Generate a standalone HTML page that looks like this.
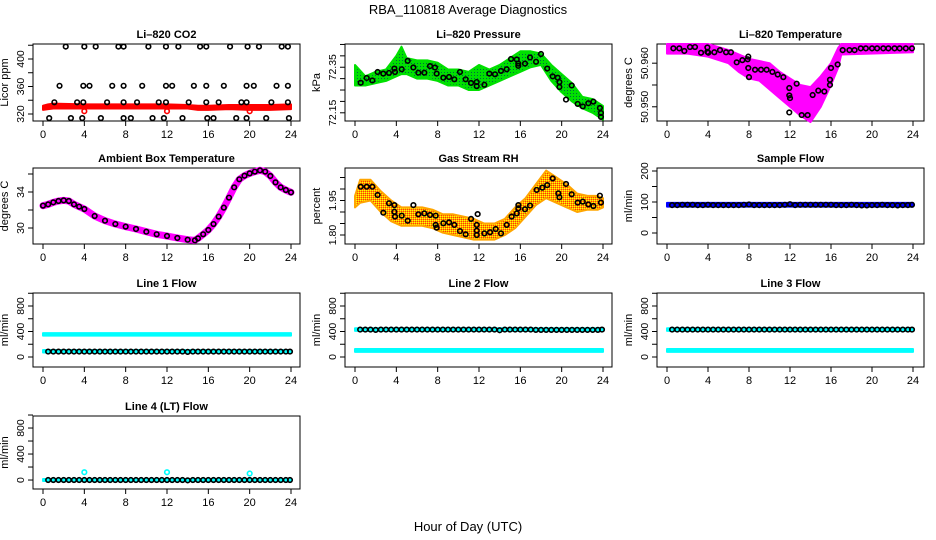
<!DOCTYPE html>
<html><head><meta charset="utf-8"><style>
body{margin:0;background:#fff;}
svg{display:block;font-family:"Liberation Sans",Arial,sans-serif;}
</style></head><body>
<svg id="c" width="936" height="540" viewBox="0 0 936 540">
<defs>
<pattern id="pg" width="3" height="3" patternUnits="userSpaceOnUse"><rect width="3" height="3" fill="#00e000"/><rect width="1" height="1" fill="#064"/></pattern>
<pattern id="po" width="2" height="2" patternUnits="userSpaceOnUse"><rect width="2" height="2" fill="#ffa500"/><rect width="1" height="1" fill="#ffff00"/><rect x="1" y="1" width="1" height="1" fill="#ff4000"/></pattern>
</defs>
<text x="468" y="14" text-anchor="middle" font-size="13">RBA_110818  Average Diagnostics</text>
<text x="468" y="531" text-anchor="middle" font-size="13">Hour of Day (UTC)</text>
</svg>
<script>
// ---------- data ----------
const co2Hours=[2.2,4.0,5.1,7.3,7.8,10.2,11.9,13.1,15.2,15.8,18.1,19.8,20.9,23.1,23.7,1.6,3.9,4.5,6.7,7.8,9.6,11.9,12.5,14.6,15.8,17.5,19.7,20.4,22.6,23.7,1.1,3.3,3.9,6.2,7.8,9.1,11.2,11.9,14.1,15.8,17.0,19.2,19.7,22.1,23.7,0.6,2.7,3.8,5.6,7.8,8.5,10.6,11.7,13.5,15.9,16.5,18.7,19.7,21.6,23.8];
const co2Values=[418,418,418,418,418,418,418,418,418,418,418,418,418,418,418,361,361,361,361,361,361,361,361,361,361,361,361,361,361,361,337,337,337,337,337,337,337,337,337,337,337,337,337,337,337,314,314,314,314,314,314,314,314,314,314,314,314,314,314,314];
const co2BandHours=[0,0.5,1,4,8,12,14,15,16,18,20,21,22,24];
const co2BandLo=[326,327,328,328,328,328,328,326,326,327,326,326,326,327];
const co2BandHi=[332,334,335,334,334,334,333,332,332,333,333,333,333,334];
const co2RedHours=[4,12,20];
const co2RedValues=[324,324,324];

const presHours=[0.55,1.13,1.68,2.19,2.74,3.29,3.81,3.87,4.52,5.10,5.65,6.13,6.71,7.26,7.74,7.9,8.55,9.10,9.61,10.16,10.71,11.23,11.78,11.78,12.52,13.0,13.55,14.13,14.68,15.1,15.65,15.8,15.8,16.45,16.94,17.52,18.0,18.6,19.13,19.62,19.78,19.78,20.42,20.97,21.55,22.04,22.58,23.07,23.7,23.8,23.8];
const presValues=[72.282,72.303,72.292,72.329,72.322,72.325,72.344,72.329,72.341,72.378,72.349,72.326,72.326,72.355,72.349,72.322,72.304,72.307,72.297,72.329,72.297,72.281,72.285,72.267,72.273,72.322,72.319,72.334,72.341,72.386,72.384,72.366,72.356,72.366,72.393,72.374,72.408,72.344,72.310,72.304,72.285,72.263,72.208,72.270,72.189,72.178,72.192,72.199,72.171,72.149,72.132];
const presBandHours=[0,1,2,3,4,4.5,5,6,7,8,9,10,11,12,13,14,15,16,17,18,19,20,21,22,23,24];
const presBandLo=[72.27,72.27,72.28,72.29,72.31,72.32,72.32,72.30,72.30,72.29,72.27,72.27,72.25,72.25,72.27,72.29,72.31,72.33,72.35,72.36,72.29,72.24,72.20,72.17,72.15,72.12];
const presBandHi=[72.36,72.31,72.33,72.34,72.40,72.44,72.39,72.38,72.38,72.37,72.34,72.34,72.33,72.36,72.34,72.36,72.39,72.42,72.42,72.41,72.36,72.32,72.28,72.22,72.21,72.18];

const tempHours=[0.62,1.2,1.69,2.24,2.73,3.32,3.94,3.94,4.03,4.62,5.17,5.76,6.24,6.8,7.35,7.87,7.93,7.93,8.0,8.59,9.17,9.72,10.28,10.8,11.35,11.93,11.93,12.0,11.93,12.65,13.14,13.72,14.21,14.76,15.35,15.9,15.9,16.0,16.65,17.14,17.8,18.3,18.9,19.4,20.0,20.5,21.1,21.6,22.2,22.7,23.3,23.9];
const tempValues=[50.9634,50.9634,50.9628,50.9637,50.9637,50.9624,50.9636,50.9626,50.9624,50.9625,50.9630,50.9625,50.9625,50.9602,50.9607,50.9609,50.9615,50.9589,50.9568,50.9585,50.9585,50.9585,50.9580,50.9574,50.9568,50.9543,50.9526,50.9520,50.9487,50.9553,50.9481,50.9481,50.9527,50.9537,50.9535,50.9550,50.9562,50.9589,50.9597,50.9630,50.9630,50.9630,50.9634,50.9634,50.9634,50.9634,50.9634,50.9634,50.9634,50.9634,50.9634,50.9634];
const tempBandHours=[0,2,4,6,7,8,9,10,11,12,13,14,15,16,16.7,17,24];
const tempBandLo=[50.9622,50.9622,50.9615,50.9600,50.9580,50.9565,50.9560,50.9540,50.9520,50.9500,50.9480,50.9465,50.9500,50.9550,50.9590,50.9620,50.9625];
const tempBandHi=[50.9644,50.9644,50.9644,50.9630,50.9620,50.9610,50.9605,50.9600,50.9580,50.9565,50.9550,50.9545,50.9570,50.9600,50.9635,50.9644,50.9644];

const ambHours=[0,0.5,1,1.5,2,2.5,3,3.5,4,5,6,7,8,9,10,11,12,13,14,14.7,15,15.5,16,16.5,17,17.5,18,18.5,19,19.5,20,20.5,21,21.5,22,22.5,23,23.5,24];
const ambValues=[32.48,32.63,32.85,33.0,33.07,33.0,32.63,32.37,32.11,31.33,30.81,30.44,30.15,29.89,29.59,29.3,29.11,28.89,28.7,28.63,28.85,29.3,29.78,30.44,31.26,32.26,33.37,34.52,35.41,35.81,36.07,36.26,36.41,36.26,35.78,35.07,34.52,34.22,33.96];

const rhHours=[0.55,1.13,1.68,2.19,2.74,3.29,3.81,3.81,3.87,4.52,5.10,5.65,6.13,6.71,7.26,7.81,7.81,7.9,8.55,9.10,9.61,10.16,10.71,11.23,11.78,11.78,11.78,11.87,12.52,13.07,13.62,14.13,14.68,15.16,15.65,15.81,15.81,16.45,16.94,17.58,18.13,18.6,19.13,19.68,19.78,20.42,20.97,21.55,22.04,22.58,23.07,23.7,23.8];
const rhValues=[2.010,2.010,2.010,1.974,1.897,1.938,1.930,1.901,1.880,1.884,1.862,1.930,1.890,1.894,1.887,1.884,1.844,1.832,1.851,1.855,1.844,1.817,1.803,1.870,1.844,1.819,1.800,1.891,1.807,1.812,1.826,1.807,1.844,1.880,1.894,1.916,1.930,1.912,1.928,1.996,2.006,2.017,2.046,1.981,1.964,2.022,1.977,1.941,1.945,1.933,1.926,1.971,1.941];
const rhBandHours=[0,0.5,1.5,2.5,3.5,4.5,5.5,6.5,7.5,8.5,9.5,10.5,11.5,12.5,13.5,14.5,15.5,16.5,17.5,18.5,19.5,20.5,21.5,22.5,23.5,24];
const rhBandLo=[1.92,1.94,1.95,1.90,1.86,1.84,1.84,1.84,1.83,1.81,1.80,1.79,1.78,1.78,1.78,1.80,1.83,1.88,1.93,1.96,1.94,1.92,1.90,1.91,1.91,1.92];
const rhBandHi=[1.97,2.04,2.04,1.99,1.95,1.92,1.92,1.92,1.91,1.89,1.89,1.88,1.87,1.85,1.85,1.87,1.92,1.96,2.02,2.08,2.05,2.02,1.98,1.97,1.97,1.96];

const flowHours=[0.5,1,1.5,2,2.5,3,3.5,4,4.5,5,5.5,6,6.5,7,7.5,8,8.5,9,9.5,10,10.5,11,11.5,12,12.5,13,13.5,14,14.5,15,15.5,16,16.5,17,17.5,18,18.5,19,19.5,20,20.5,21,21.5,22,22.5,23,23.5,23.9];
const sampleValues=[90,90,91,91,91,90,90,91,90,90,90,90,90,90,91,92,90,90,90,90,90,90,91,93,90,91,91,91,91,91,91,91,90,90,90,91,90,89,89,90,90,91,90,90,89,90,90,91];
const line1Values=[85,85,85,85,85,85,85,85,85,85,85,85,85,85,85,85,85,85,85,85,85,85,85,85,85,85,85,80,85,85,85,85,85,85,85,85,85,85,85,85,85,85,85,85,85,85,85,85];
const line2Values=[430,430,430,425,430,430,430,430,430,430,430,430,430,430,430,430,430,430,430,430,430,430,430,430,430,430,430,420,430,430,430,430,430,430,425,425,425,425,425,425,425,425,425,425,425,425,425,430];
const line3Values=[430,430,430,430,430,430,430,430,430,430,430,430,430,430,430,430,430,430,430,430,430,430,430,430,430,430,430,430,430,430,430,430,430,430,430,430,430,430,430,430,430,430,430,430,430,430,430,430];
const line4Values=[0,0,0,0,0,0,0,0,0,0,0,0,0,0,0,0,0,0,0,0,0,0,0,0,0,0,0,-5,0,0,0,0,0,0,0,0,0,0,0,0,0,0,0,0,0,0,0,0];
const flowBandHours=[0,24];
const sampleBandLo=[85,85], sampleBandHi=[97,97];
const line1HighLo=[335,335], line1HighHi=[375,375];
const line1LowLo=[70,70], line1LowHi=[110,110];
const line2HighLo=[410,410], line2HighHi=[450,450];
const line2LowLo=[80,80], line2LowHi=[125,125];
const line4BandLo=[-15,-15], line4BandHi=[15,15];
const line4CyanHours=[4,12,20];
const line4CyanValues=[120,120,100];
const xTicks=[0,4,8,12,16,20,24];

// ---------- rendering ----------
const NS='http://www.w3.org/2000/svg';
const svg=document.getElementById('c');
function mk(tag,attrs,parent){const e=document.createElementNS(NS,tag);for(const k in attrs)e.setAttribute(k,attrs[k]);(parent||svg).appendChild(e);return e;}
const cols=[{l:33,r:300,x0:43,x24:291},{l:345,r:612,x0:355,x24:603},{l:657,r:924,x0:667,x24:913}];
const rows=[{t:44,b:121},{t:168,b:244},{t:293,b:367},{t:416,b:489}];

function panel(name,title,ylab,ci,ri,ymin,ymax,yticks,ylabels){
  const c=cols[ci],r=rows[ri];
  const g=mk('g',{});
  
  
  const X=h=>c.x0+h/24*(c.x24-c.x0);
  const Y=v=>r.b-(v-ymin)/(ymax-ymin)*(r.b-r.t);
  const t=mk('text',{x:(c.l+c.r)/2,y:r.t-6,'text-anchor':'middle','font-size':'11','font-weight':'bold'},g);
  t.textContent=title;
  
  
  const yl=mk('text',{transform:`translate(${c.l-25},${(r.t+r.b)/2}) rotate(-90)`,'text-anchor':'middle','font-size':'11'},g);
  yl.textContent=ylab;
  
  
  const box=mk('rect',{x:c.l,y:r.t,width:c.r-c.l,height:r.b-r.t,fill:'none',stroke:'#000','stroke-width':1},g);
  
  
  xTicks.forEach(h=>{
    mk('line',{x1:X(h),x2:X(h),y1:r.b,y2:r.b+5,stroke:'#000'},g);
    const tl=mk('text',{x:X(h),y:r.b+17,'text-anchor':'middle','font-size':'11'},g);
    tl.textContent=h;
    
    
  });
  yticks.forEach((v,i)=>{
    mk('line',{x1:c.l,x2:c.l-5,y1:Y(v),y2:Y(v),stroke:'#000'},g);
    if(ylabels[i]){
      const tl=mk('text',{transform:`translate(${c.l-9},${Y(v)}) rotate(-90)`,'text-anchor':'middle','font-size':'10.5'},g);
      tl.textContent=ylabels[i];
      
      
    }
  });
  const clip=mk('g',{},g);
  return {g:clip,X,Y,name};
}
function band(p,hours,lo,hi,fill,label){
  let d='M'+hours.map((h,i)=>p.X(h)+','+p.Y(hi[i])).join('L');
  for(let i=hours.length-1;i>=0;i--)d+='L'+p.X(hours[i])+','+p.Y(lo[i]);
  const e=mk('path',{d:d+'Z',fill:fill,stroke:fill==='url(#pg)'?'#00e000':fill==='url(#po)'?'#ffa500':fill,'stroke-width':2,'stroke-linejoin':'round'},p.g);
  
  
}
function circles(p,hours,vals,color,label){
  hours.forEach((h,i)=>{
    const e=mk('circle',{cx:p.X(h),cy:p.Y(vals[i]),r:2.3,fill:'none',stroke:color,'stroke-width':1.6},p.g);
    
    
  });
}

let p;
p=panel('co2','Li–820 CO2','Licor ppm',0,0,309.8,421.8,[320,340,360,380,400,420],['320','','360','','400','']);
band(p,co2BandHours,co2BandLo,co2BandHi,'#ff0000','raw-band');
circles(p,co2RedHours,co2RedValues,'#ff0000','raw-outlier');
circles(p,co2Hours,co2Values,'#000','average-point');

p=panel('pressure','Li–820 Pressure','kPa',1,0,72.114,72.452,[72.15,72.2,72.25,72.3,72.35,72.4,72.45],['72.15','','','','72.35','','']);
band(p,presBandHours,presBandLo,presBandHi,'url(#pg)','raw-band');
circles(p,presHours,presValues,'#000','average-point');

p=panel('li820-temperature','Li–820 Temperature','degrees C',2,0,50.94674,50.9644,[50.95,50.955,50.96],['50.950','','50.960']);
band(p,tempBandHours,tempBandLo,tempBandHi,'#ff00ff','raw-band');
circles(p,tempHours,tempValues,'#000','average-point');

p=panel('ambient-temperature','Ambient Box Temperature','degrees C',0,1,28.222,36.667,[30,32,34,36],['30','','34','']);
{const l=mk('polyline',{points:ambHours.map((h,i)=>p.X(h)+','+p.Y(ambValues[i])).join(' '),fill:'none',stroke:'#ff00ff','stroke-width':7,'stroke-linejoin':'round','stroke-linecap':'round'},p.g);

}
circles(p,ambHours,ambValues,'#000','average-point');

p=panel('gas-rh','Gas Stream RH','percent',1,1,1.7609,2.0913,[1.8,1.85,1.9,1.95,2.0,2.05],['1.80','','','1.95','','']);
band(p,rhBandHours,rhBandLo,rhBandHi,'url(#po)','raw-band');
circles(p,rhHours,rhValues,'#000','average-point');

p=panel('sample-flow','Sample Flow','ml/min',2,1,-35.5,209.7,[0,50,100,150,200],['0','','100','','200']);
band(p,flowBandHours,sampleBandLo,sampleBandHi,'#0000ff','raw-band');
circles(p,flowHours,sampleValues,'#000','average-point');

const fT=[0,200,400,600,800,1000], fL=['0','','400','','800',''];
p=panel('line1-flow','Line 1 Flow','ml/min',0,2,-157,1004,fT,fL);
band(p,flowBandHours,line1HighLo,line1HighHi,'#00ffff','raw-band-high');
band(p,flowBandHours,line1LowLo,line1LowHi,'#00ffff','raw-band-low');
circles(p,flowHours,line1Values,'#000','average-point');

p=panel('line2-flow','Line 2 Flow','ml/min',1,2,-157,1004,fT,fL);
band(p,flowBandHours,line2HighLo,line2HighHi,'#00ffff','raw-band-high');
band(p,flowBandHours,line2LowLo,line2LowHi,'#00ffff','raw-band-low');
circles(p,flowHours,line2Values,'#000','average-point');

p=panel('line3-flow','Line 3 Flow','ml/min',2,2,-157,1004,fT,fL);
band(p,flowBandHours,line2HighLo,line2HighHi,'#00ffff','raw-band-high');
band(p,flowBandHours,line2LowLo,line2LowHi,'#00ffff','raw-band-low');
circles(p,flowHours,line3Values,'#000','average-point');

p=panel('line4-flow','Line 4 (LT) Flow','ml/min',0,3,-138,985,fT,fL);
band(p,flowBandHours,line4BandLo,line4BandHi,'#00ffff','raw-band');
circles(p,line4CyanHours,line4CyanValues,'#00ffff','raw-outlier');
circles(p,flowHours,line4Values,'#000','average-point');
</script>
</body></html>
